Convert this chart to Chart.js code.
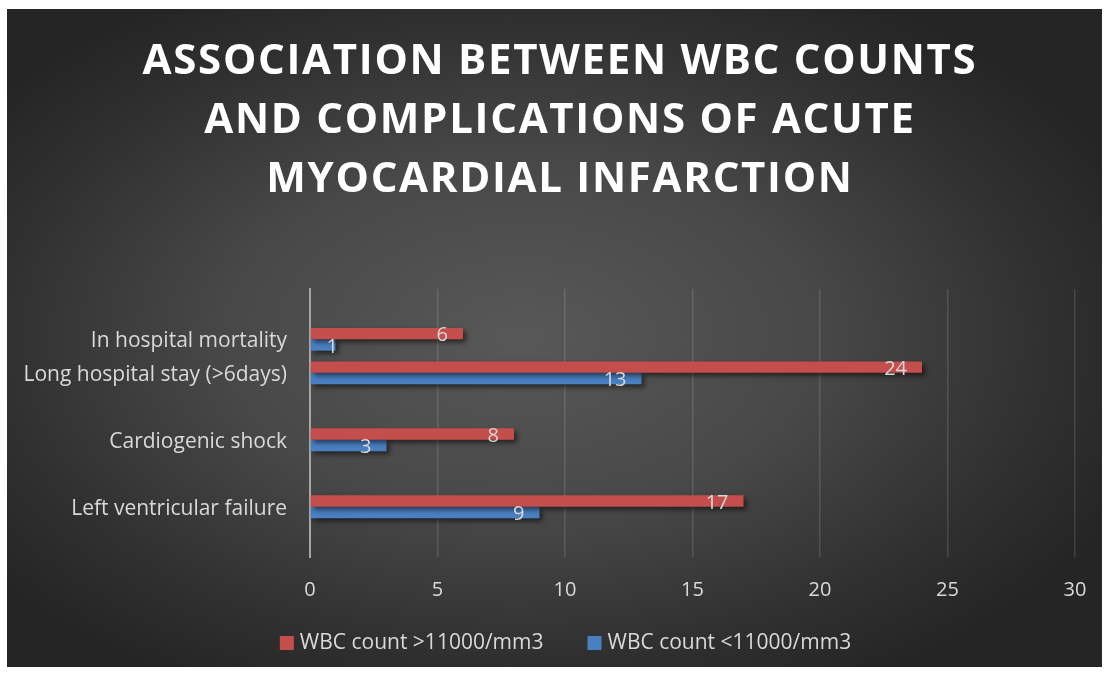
<!DOCTYPE html>
<html>
<head>
<meta charset="utf-8">
<script src="https://cdn.jsdelivr.net/npm/chart.js@4/dist/chart.umd.min.js"></script>
<style>
  html, body { margin: 0; padding: 0; background: #fff; }
  #panel {
    position: absolute; left: 7px; top: 9px; width: 1095px; height: 658px;
    background: radial-gradient(ellipse 60% 60% at 47% 50%, #585858 0%, #484848 45%, #303030 80%, #252525 100%);
  }
  canvas { display: block; }
</style>
</head>
<body>
<div id="panel"><canvas id="chart" width="1095" height="658"></canvas></div>
<script>
const titleLines = [
  "ASSOCIATION BETWEEN WBC COUNTS",
  "AND COMPLICATIONS OF ACUTE",
  "MYOCARDIAL INFARCTION"
];
// blank slots keep the uneven spacing of the original
const categories = ["", "In hospital mortality", "Long hospital stay (>6days)", "", "Cardiogenic shock", "", "Left ventricular failure", ""];
const highWbc = [null, 6, 24, null, 8, null, 17, null];
const lowWbc = [null, 1, 13, null, 3, null, 9, null];
const xTicks = [0, 5, 10, 15, 20, 25, 30];

const labelColor = "#d9d9d9";
const fontFamily = "'Open Sans', 'Liberation Sans', sans-serif";

const barShadow = {
  id: "barShadow",
  beforeDatasetsDraw(chart) {
    const ctx = chart.ctx;
    ctx.save();
    ctx.shadowColor = "rgba(0,0,0,0.55)";
    ctx.shadowBlur = 5;
    ctx.shadowOffsetX = 3;
    ctx.shadowOffsetY = 3;
  },
  afterDatasetsDraw(chart) {
    chart.ctx.restore();
  }
};

const valueLabels = {
  id: "valueLabels",
  afterDatasetsDraw(chart) {
    const ctx = chart.ctx;
    const base = chart.scales.x.getPixelForValue(0);
    ctx.save();
    ctx.font = "20px " + fontFamily;
    ctx.fillStyle = labelColor;
    ctx.textAlign = "right";
    ctx.textBaseline = "middle";
    chart.data.datasets.forEach((ds, i) => {
      chart.getDatasetMeta(i).data.forEach((bar, j) => {
        const v = ds.data[j];
        if (v == null) return;
        const x = Math.max(bar.x - 15, base + 28);
        ctx.fillText(String(v), x, bar.y + 2);
      });
    });
    ctx.restore();
  }
};

// legend drawn by hand: small square, short gap, wide spacing between items
const bottomLegend = {
  id: "bottomLegend",
  afterDraw(chart) {
    const ctx = chart.ctx;
    const box = 14, gap = 6, spacing = 44;
    ctx.save();
    ctx.font = "21px " + fontFamily;
    ctx.textBaseline = "middle";
    const items = chart.data.datasets.map((ds) => ({
      text: ds.label,
      color: ds.backgroundColor,
      w: box + gap + ctx.measureText(ds.label).width
    }));
    const total = items.reduce((s, it) => s + it.w, 0) + spacing * (items.length - 1);
    let x = chart.width / 2 + 11 - total / 2;
    const y = chart.height - 24;
    items.forEach((it) => {
      ctx.fillStyle = it.color;
      ctx.fillRect(x, y - box / 2, box, box);
      ctx.fillStyle = labelColor;
      ctx.fillText(it.text, x + box + gap, y);
      x += it.w + spacing;
    });
    ctx.restore();
  }
};

const chart = new Chart(document.getElementById("chart"), {
  type: "bar",
  data: {
    labels: categories,
    datasets: [
      {
        label: "WBC count >11000/mm3",
        data: highWbc,
        backgroundColor: "#c44e4c",
        barPercentage: 1,
        categoryPercentage: 0.68
      },
      {
        label: "WBC count <11000/mm3",
        data: lowWbc,
        backgroundColor: "#4a7fc1",
        barPercentage: 1,
        categoryPercentage: 0.68
      }
    ]
  },
  options: {
    indexAxis: "y",
    responsive: false,
    animation: false,
    layout: { padding: { left: 0, right: 27, top: 0, bottom: 45 } },
    plugins: {
      title: {
        display: true,
        text: titleLines,
        color: "#ffffff",
        font: { family: fontFamily, size: 42, weight: "bold", lineHeight: 1.405 },
        padding: { top: 24, bottom: 79 }
      },
      legend: { display: false },
      tooltip: { enabled: false }
    },
    scales: {
      x: {
        min: 0,
        max: 30,
        afterBuildTicks(scale) {
          scale.ticks = xTicks.map((v) => ({ value: v }));
        },
        afterFit(scale) { scale.height = 65; },
        grid: { color: "rgba(255,255,255,0.13)", lineWidth: 1.5, drawTicks: true, tickLength: 21, tickColor: "transparent" },
        border: { display: false },
        ticks: { color: labelColor, font: { family: fontFamily, size: 20 }, padding: 0 }
      },
      y: {
        afterFit(scale) { scale.width = 303; },
        grid: { display: false, drawTicks: false },
        border: { display: true, color: "#a6a6a6", width: 2 },
        ticks: { color: labelColor, font: { family: fontFamily, size: 21 }, padding: 23, labelOffset: 2, autoSkip: false }
      }
    }
  },
  plugins: [barShadow, valueLabels, bottomLegend]
});

// widen the title a little and nudge it right, as in the original
const titleBox = chart.titleBlock;
const drawTitle = titleBox.draw.bind(titleBox);
titleBox.draw = function () {
  this.ctx.save();
  this.ctx.letterSpacing = "1.7px";
  this.ctx.translate(19, 0);
  drawTitle();
  this.ctx.restore();
};
chart.draw();
</script>
</body>
</html>
